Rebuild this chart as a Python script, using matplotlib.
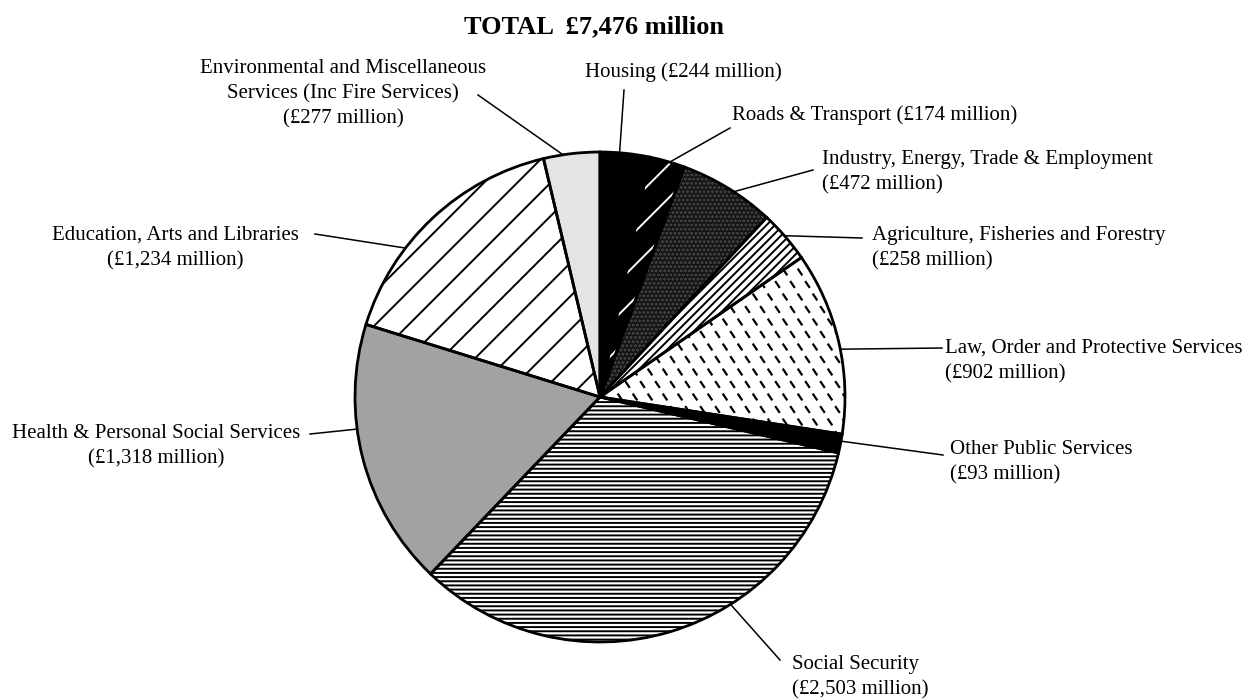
import numpy as np
import matplotlib.pyplot as plt
from matplotlib.patches import Wedge
from matplotlib.collections import LineCollection

plt.rcParams['font.family'] = ['Liberation Serif', 'DejaVu Serif']
plt.rcParams['hatch.linewidth'] = 1.4

## Spending by function (£ million), clockwise from 12 o'clock
categories = ['Housing',
              'Roads & Transport',
              'Industry, Energy, Trade & Employment',
              'Agriculture, Fisheries and Forestry',
              'Law, Order and Protective Services',
              'Other Public Services',
              'Social Security',
              'Health & Personal Social Services',
              'Education, Arts and Libraries',
              'Environmental and Miscellaneous\nServices (Inc Fire Services)']
spend = [244, 174, 472, 258, 902, 93, 2503, 1318, 1234, 277]
total = 7476
one_line = [True, True, False, False, False, False, False, False, False, False]

# fill, hatch, hatch colour for each slice
faces = ['black', 'black', '#141414', 'white', 'white', 'black',
         'white', '#a2a2a2', 'white', '#e4e4e4']
hatches = [None, '/', '....', '////', None, None, '----', None, '/', None]
hatch_cols = [None, 'white', '#4a4a4a', 'black', None, None, 'black', None, 'black', None]

# label placement in pixels (from top-left), alignment, leader outer end,
# and where along each slice the leader touches the rim
H = 699
text_pos = [(585, 72), (732, 115), (822, 172), (872, 248), (945, 361),
            (950, 462), (792, 677), (156, 446), (175, 248), (343, 94)]
text_ha = ['left'] * 7 + ['center'] * 3
leader_out = [(624, 90), (730, 128), (813, 170), (862, 238), (942, 348),
              (943, 455), (780, 660), (310, 434), (315, 234), (478, 95)]
rim_frac = [0.39, 0.57, 0.57, 0.48, 0.54, 0.37, 0.37, 0.61, 0.34, 0.35]


def flip(p):
    return p[0], H - p[1]


fig = plt.figure(figsize=(12.57, 6.99), dpi=100)
ax = fig.add_axes([0, 0, 1, 1])

wedges, _ = ax.pie(spend, center=flip((600, 397)), radius=245, startangle=90,
                   counterclock=False, colors=faces, frame=True,
                   wedgeprops=dict(edgecolor='black', linewidth=0))
ax.set_xlim(0, 1257)
ax.set_ylim(0, H)
ax.set_aspect('equal')
ax.axis('off')

# hatch overlays
for w, h, hc in zip(wedges, hatches, hatch_cols):
    if h is None:
        continue
    ov = Wedge(w.center, w.r, w.theta1, w.theta2, facecolor='none',
               edgecolor=hc, hatch=h, linewidth=0, zorder=2)
    ax.add_patch(ov)

# short dash texture for Law, Order and Protective Services
law = wedges[4]
cx, cy = law.center
segs = []
for j, gy in enumerate(np.arange(cy - 250, cy + 250, 12.5)):
    off = 7.5 if j % 2 else 0
    for gx in np.arange(cx - 10 + off, cx + 260, 15):
        segs.append([(gx - 2.3, gy + 3.4), (gx + 2.3, gy - 3.4)])
lc = LineCollection(segs, colors='black', linewidths=1.6, zorder=2)
ax.add_collection(lc)
lc.set_clip_path(law)

# slice outlines on top
for w in wedges:
    ax.add_patch(Wedge(w.center, w.r, w.theta1, w.theta2, fill=False,
                       edgecolor='black', linewidth=2.0, zorder=3))

# labels and leader lines
for i, w in enumerate(wedges):
    name = categories[i]
    value = '(£{:,} million)'.format(spend[i])
    label = name + (' ' if one_line[i] else '\n') + value
    tx, ty = flip(text_pos[i])
    ax.text(tx, ty, label, ha=text_ha[i], va='center', multialignment=text_ha[i],
            fontsize=15, linespacing=1.42, color='black')

    theta = np.deg2rad(w.theta2 - rim_frac[i] * (w.theta2 - w.theta1))
    x0 = w.center[0] + w.r * np.cos(theta)
    y0 = w.center[1] + w.r * np.sin(theta)
    x1, y1 = flip(leader_out[i])
    ax.plot([x0, x1], [y0, y1], color='black', linewidth=1.1, zorder=4)

ax.text(*flip((594, 27)), 'TOTAL  £{:,} million'.format(total), ha='center',
        va='center', fontsize=19, fontweight='bold')

fig.savefig('out.png', dpi=100)
